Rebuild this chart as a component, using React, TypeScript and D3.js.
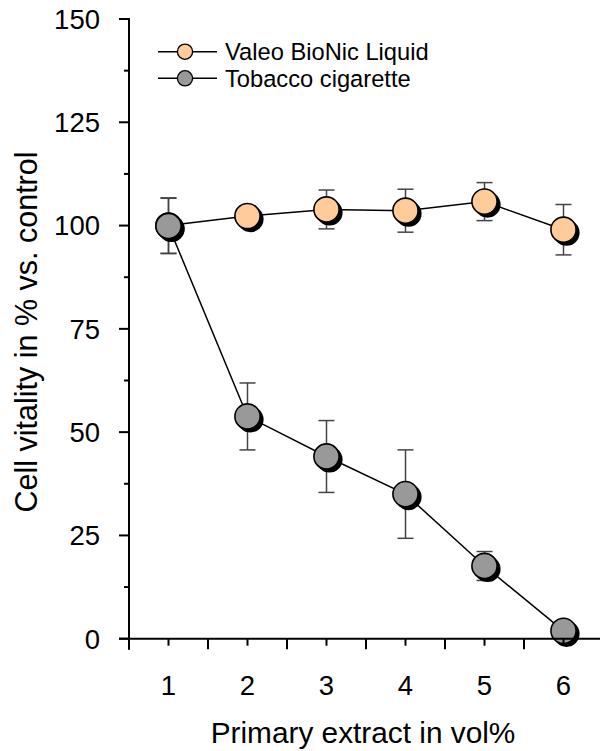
import React from "react";
import * as d3 from "d3";

const xValues = [1, 2, 3, 4, 5, 6];
const valeoValues = [100, 102.3, 103.9, 103.6, 105.8, 99];
const valeoErrors = [6.7, 2.5, 4.7, 5.2, 4.6, 6.1];
const tobaccoValues = [99.9, 53.8, 44.1, 35.0, 17.6, 1.9];
const tobaccoErrors = [6.7, 8.1, 8.7, 10.7, 3.5, 1.0];
const yMajorTicks = [0, 25, 50, 75, 100, 125, 150];
const yMinorTicks = [12.5, 37.5, 62.5, 87.5, 112.5, 137.5];
const xBoundaryTicks = [0.5, 1.5, 2.5, 3.5, 4.5, 5.5, 6.5];
const seriesNames = ["Valeo BioNic Liquid", "Tobacco cigarette"];
const seriesColors = ["#FFCC99", "#999999"];

const FONT = "Arial, 'Liberation Sans', Helvetica, sans-serif";

export default function App() {
  const W = 600;
  const H = 751;
  const x = d3.scaleLinear().domain([0.5, 6.5]).range([129, 603]);
  const y = d3.scaleLinear().domain([0, 150]).range([638.7, 19]);
  const line = d3
    .line<number>()
    .x((_, i) => x(xValues[i]))
    .y((d) => y(d));

  const series = [
    { values: valeoValues, errors: valeoErrors, color: seriesColors[0] },
    { values: tobaccoValues, errors: tobaccoErrors, color: seriesColors[1] },
  ];
  const axisX = x(0.5);
  const axisY = y(0);
  const r = 12.6;

  return (
    <svg
      width={W}
      height={H}
      style={{ position: "absolute", left: 0, top: 0, background: "#fff" }}
      fontFamily={FONT}
    >
      {/* lines */}
      {series.map((s, si) => (
        <path key={"l" + si} d={line(s.values) || ""} fill="none" stroke="#000" strokeWidth={1.5} />
      ))}
      {/* error bars */}
      {series.map((s, si) =>
        s.values.map((v, i) => {
          const cx = x(xValues[i]);
          const top = y(v + s.errors[i]);
          const bot = y(v - s.errors[i]);
          return (
            <g key={"e" + si + "-" + i} stroke="#444" strokeWidth={1.5}>
              <line x1={cx} x2={cx} y1={top} y2={bot} />
              <line x1={cx - 8} x2={cx + 8} y1={top} y2={top} />
              <line x1={cx - 8} x2={cx + 8} y1={bot} y2={bot} />
            </g>
          );
        })
      )}
      {/* markers */}
      {series.map((s, si) =>
        s.values.map((v, i) => {
          const cx = x(xValues[i]);
          const cy = y(v);
          return (
            <g key={"m" + si + "-" + i}>
              <circle cx={cx + 3} cy={cy + 3} r={r + 0.5} fill="#000" />
              <circle cx={cx} cy={cy} r={r} fill={s.color} stroke="#000" strokeWidth={1.6} />
            </g>
          );
        })
      )}
      {/* y axis */}
      <line x1={axisX} x2={axisX} y1={y(150) - 1} y2={axisY + 11} stroke="#000" strokeWidth={2} />
      {yMajorTicks.map((t) => (
        <g key={"yt" + t}>
          <line x1={axisX - 10} x2={axisX} y1={y(t)} y2={y(t)} stroke="#000" strokeWidth={2} />
          <text x={100} y={y(t)} dy="0.36em" textAnchor="end" fontSize={27.5} fill="#000">
            {t}
          </text>
        </g>
      ))}
      {yMinorTicks.map((t) => (
        <line key={"ym" + t} x1={axisX - 5} x2={axisX} y1={y(t)} y2={y(t)} stroke="#000" strokeWidth={2} />
      ))}
      {/* x axis */}
      <line x1={axisX - 10} x2={W} y1={axisY} y2={axisY} stroke="#000" strokeWidth={2} />
      {xBoundaryTicks.map((t) => (
        <line key={"xb" + t} x1={x(t)} x2={x(t)} y1={axisY} y2={axisY + 10.5} stroke="#000" strokeWidth={2} />
      ))}
      {xValues.map((t) => (
        <g key={"xt" + t}>
          <line x1={x(t)} x2={x(t)} y1={axisY} y2={axisY + 7} stroke="#000" strokeWidth={2} />
          <text x={x(t)} y={695} textAnchor="middle" fontSize={27.5} fill="#000">
            {t}
          </text>
        </g>
      ))}
      {/* axis titles */}
      <text x={363} y={743} textAnchor="middle" fontSize={29.8} fill="#000">
        Primary extract in vol%
      </text>
      <text
        transform={`translate(37, 332) rotate(-90)`}
        textAnchor="middle"
        fontSize={30.5}
        fill="#000"
      >
        Cell vitality in % vs. control
      </text>
      {/* legend */}
      {seriesNames.map((name, i) => {
        const ly = i === 0 ? 51.7 : 78.3;
        return (
          <g key={"lg" + i}>
            <line x1={158} x2={217} y1={ly} y2={ly} stroke="#000" strokeWidth={1.5} />
            <circle cx={185} cy={ly} r={7.6} fill={seriesColors[i]} stroke="#000" strokeWidth={1.3} />
            <text x={225} y={ly} dy="0.36em" fontSize={23.7} fill="#000">
              {name}
            </text>
          </g>
        );
      })}
    </svg>
  );
}
